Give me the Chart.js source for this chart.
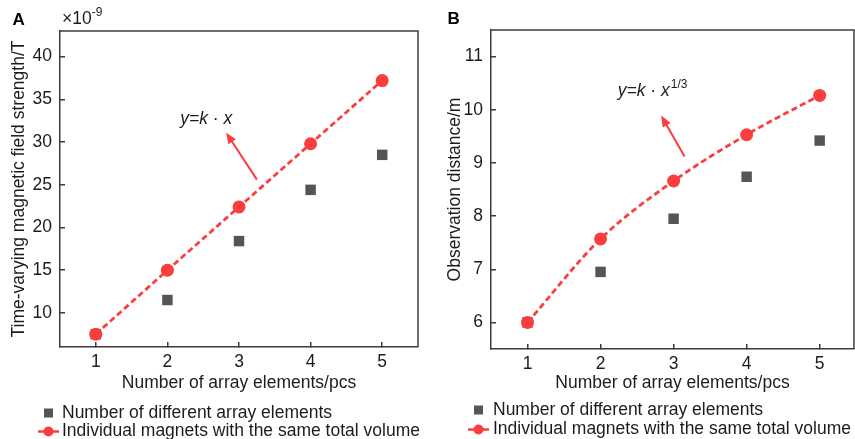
<!DOCTYPE html>
<html>
<head>
<meta charset="utf-8">
<script src="https://cdn.jsdelivr.net/npm/chart.js@4/dist/chart.umd.min.js"></script>
<style>
  html, body { margin: 0; padding: 0; background: #ffffff; }
  #wrap { position: relative; width: 855px; height: 439px; overflow: hidden; }
  canvas { position: absolute; top: 0; }
</style>
</head>
<body>
<div id="wrap">
  <canvas id="panelA" width="430" height="439" style="left:0"></canvas>
  <canvas id="panelB" width="426" height="439" style="left:430px"></canvas>
</div>
<script>
// Number of array elements (x values)
const elements = [1, 2, 3, 4, 5];

// Panel A: time-varying magnetic field strength (×10^-9 T)
const fieldArray  = [7.5, 11.5, 18.4, 24.4, 28.5];
const fieldSingle = [7.5, 15.0, 22.4, 29.8, 37.2];

// Panel B: observation distance (m)
const distArray  = [6.0, 6.95, 7.95, 8.74, 9.42];
const distSingle = [6.0, 7.57, 8.66, 9.53, 10.27];

// Tick labels
const xTicks     = [1, 2, 3, 4, 5];
const fieldTicks = [10, 15, 20, 25, 30, 35, 40];
const distTicks  = [6, 7, 8, 9, 10, 11];

const seriesNames = [
  'Number of different array elements',
  'Individual magnets with the same total volume'
];

const RED  = '#fa3d3d';
const GREY = '#555555';
const AXIS = '#3c3c3c';
const TEXT = '#1c1c1c';
const FONT = '"Liberation Sans", Arial, Helvetica, sans-serif';
const FS = 17.5;

// Top and right edges of the plot frame
const framePlugin = {
  id: 'frame',
  afterDraw(chart) {
    const { ctx, chartArea: a } = chart;
    ctx.save();
    ctx.strokeStyle = AXIS;
    ctx.lineWidth = 1.5;
    ctx.beginPath();
    ctx.moveTo(a.left, a.top);
    ctx.lineTo(a.right, a.top);
    ctx.lineTo(a.right, a.bottom);
    ctx.stroke();
    ctx.restore();
  }
};

// Two-row legend under each panel, styled from the datasets
const legendPlugin = {
  id: 'rowsLegend',
  afterDraw(chart, args, opts) {
    const { ctx } = chart;
    const [sq, ln] = chart.data.datasets;
    ctx.save();
    ctx.font = FS + 'px ' + FONT;
    ctx.textBaseline = 'middle';
    ctx.textAlign = 'left';
    // square marker row
    ctx.fillStyle = sq.pointBackgroundColor;
    ctx.fillRect(opts.markX - 4.5, opts.row1 - 4.5, 9, 9);
    ctx.fillStyle = TEXT;
    ctx.fillText(sq.label, opts.textX, opts.row1);
    // line + circle row
    ctx.strokeStyle = ln.borderColor;
    ctx.lineWidth = 2.5;
    ctx.beginPath();
    ctx.moveTo(opts.markX - 10.5, opts.row2);
    ctx.lineTo(opts.markX + 10.5, opts.row2);
    ctx.stroke();
    ctx.fillStyle = ln.pointBackgroundColor;
    ctx.beginPath();
    ctx.arc(opts.markX, opts.row2, 5, 0, Math.PI * 2);
    ctx.fill();
    ctx.fillStyle = TEXT;
    ctx.fillText(ln.label, opts.textX, opts.row2);
    ctx.restore();
  }
};

// Fit-law note with an arrow, placed in data coordinates
const notePlugin = {
  id: 'fitNote',
  afterDraw(chart, args, opts) {
    const { ctx, scales: { x, y } } = chart;
    ctx.save();
    const tx = x.getPixelForValue(opts.at[0]);
    const ty = y.getPixelForValue(opts.at[1]);
    ctx.fillStyle = TEXT;
    ctx.textBaseline = 'alphabetic';
    ctx.textAlign = 'left';
    ctx.font = 'italic ' + FS + 'px ' + FONT;
    ctx.fillText(opts.text, tx, ty);
    if (opts.sup) {
      const w = ctx.measureText(opts.text).width;
      ctx.font = '12px ' + FONT;
      ctx.fillText(opts.sup, tx + w + 1, ty - 8);
    }
    const x1 = x.getPixelForValue(opts.from[0]), y1 = y.getPixelForValue(opts.from[1]);
    const x2 = x.getPixelForValue(opts.to[0]),   y2 = y.getPixelForValue(opts.to[1]);
    const ang = Math.atan2(y2 - y1, x2 - x1);
    const head = 11, half = 4.5;
    ctx.strokeStyle = RED;
    ctx.fillStyle = RED;
    ctx.lineWidth = 2;
    ctx.beginPath();
    ctx.moveTo(x1, y1);
    ctx.lineTo(x2 - Math.cos(ang) * head * 0.8, y2 - Math.sin(ang) * head * 0.8);
    ctx.stroke();
    ctx.beginPath();
    ctx.moveTo(x2, y2);
    ctx.lineTo(x2 - Math.cos(ang) * head - Math.sin(ang) * half, y2 - Math.sin(ang) * head + Math.cos(ang) * half);
    ctx.lineTo(x2 - Math.cos(ang) * head + Math.sin(ang) * half, y2 - Math.sin(ang) * head - Math.cos(ang) * half);
    ctx.closePath();
    ctx.fill();
    ctx.restore();
  }
};

// Panel letter and optional axis multiplier
const headerPlugin = {
  id: 'header',
  afterDraw(chart, args, opts) {
    const { ctx } = chart;
    ctx.save();
    ctx.fillStyle = '#000';
    ctx.textBaseline = 'middle';
    ctx.textAlign = 'left';
    ctx.font = 'bold 17px ' + FONT;
    ctx.fillText(opts.letter, opts.letterX, opts.letterY);
    if (opts.mult) {
      ctx.fillStyle = TEXT;
      ctx.textBaseline = 'alphabetic';
      ctx.font = FS + 'px ' + FONT;
      ctx.fillText(opts.mult, opts.multX, opts.multY);
      const w = ctx.measureText(opts.mult).width;
      ctx.font = '12px ' + FONT;
      ctx.fillText(opts.multExp, opts.multX + w, opts.multY - 8);
    }
    ctx.restore();
  }
};

function buildChart(id, p) {
  const pts = vals => elements.map((v, i) => ({ x: v, y: vals[i] }));
  return new Chart(document.getElementById(id), {
    type: 'line',
    data: {
      datasets: [
        {
          label: seriesNames[0],
          data: pts(p.arr),
          showLine: false,
          pointStyle: 'rect',
          pointRadius: 7.4,
          pointHoverRadius: 7.4,
          pointBackgroundColor: GREY,
          pointBorderWidth: 0,
          borderColor: GREY,
          backgroundColor: GREY,
          order: 2
        },
        {
          label: seriesNames[1],
          data: pts(p.single),
          borderColor: RED,
          backgroundColor: RED,
          borderWidth: 2.8,
          borderDash: [6, 3.5],
          pointStyle: 'circle',
          pointRadius: 6.5,
          pointHoverRadius: 6.5,
          pointBackgroundColor: RED,
          pointBorderWidth: 0,
          cubicInterpolationMode: p.smooth ? 'monotone' : 'default',
          tension: 0,
          order: 1
        }
      ]
    },
    options: {
      responsive: false,
      animation: false,
      events: [],
      layout: { padding: p.padding, autoPadding: false },
      plugins: {
        legend: { display: false },
        tooltip: { enabled: false },
        rowsLegend: p.legend,
        fitNote: p.note,
        header: p.header
      },
      scales: {
        x: {
          type: 'linear',
          min: 0.5,
          max: p.xMax,
          afterBuildTicks: s => { s.ticks = xTicks.map(v => ({ value: v })); },
          afterFit: s => { s.height = 50; s.paddingLeft = 0; s.paddingRight = 0; },
          border: { color: AXIS, width: 1.5 },
          grid: { drawOnChartArea: false, color: AXIS, lineWidth: 1.5, tickLength: -5 },
          ticks: { padding: 9.5, color: TEXT, font: { family: FONT, size: FS }, maxRotation: 0 },
          title: {
            display: true,
            text: 'Number of array elements/pcs',
            color: TEXT,
            font: { family: FONT, size: FS },
            padding: { top: 0, bottom: p.xTitlePad }
          }
        },
        y: {
          type: 'linear',
          min: p.yMin,
          max: p.yMax,
          afterBuildTicks: s => { s.ticks = p.yTicks.map(v => ({ value: v })); },
          afterFit: s => { s.width = p.yWidth; s.paddingTop = 0; s.paddingBottom = 0; },
          border: { color: AXIS, width: 1.5 },
          grid: { drawOnChartArea: false, color: AXIS, lineWidth: 1.5, tickLength: -5 },
          ticks: { padding: 13, color: TEXT, font: { family: FONT, size: FS } },
          title: {
            display: true,
            text: p.yTitle,
            color: TEXT,
            font: { family: FONT, size: FS },
            padding: { top: p.yTitlePad, bottom: 0 }
          }
        }
      }
    },
    plugins: [framePlugin, legendPlugin, notePlugin, headerPlugin]
  });
}

buildChart('panelA', {
  arr: fieldArray,
  single: fieldSingle,
  smooth: false,
  xMax: 5.5,
  yMin: 6,
  yMax: 43,
  yTicks: fieldTicks,
  yWidth: 60,
  yTitle: 'Time-varying magnetic field strength/T',
  yTitlePad: 9,
  xTitlePad: 3.5,
  padding: { left: 0, top: 31, right: 12, bottom: 42 },
  legend: { markX: 48.5, textX: 62, row1: 413, row2: 431.5 },
  note: { text: 'y=k · x', at: [2.18, 32.1], from: [3.25, 25.6], to: [2.82, 31.1] },
  header: { letter: 'A', letterX: 12.5, letterY: 20, mult: '×10', multExp: '-9', multX: 62, multY: 24 }
});

buildChart('panelB', {
  arr: distArray,
  single: distSingle,
  smooth: true,
  xMax: 5.47,
  yMin: 5.5,
  yMax: 11.5,
  yTicks: distTicks,
  yWidth: 61,
  yTitle: 'Observation distance/m',
  yTitlePad: 14.5,
  xTitlePad: 5.2,
  padding: { left: 0, top: 30, right: 2, bottom: 40 },
  legend: { markX: 48.5, textX: 63, row1: 410, row2: 429.5 },
  note: { text: 'y=k · x', sup: '1/3', at: [2.235, 10.25], from: [3.15, 9.12], to: [2.83, 9.89] },
  header: { letter: 'B', letterX: 17.5, letterY: 19 }
});
</script>
</body>
</html>
